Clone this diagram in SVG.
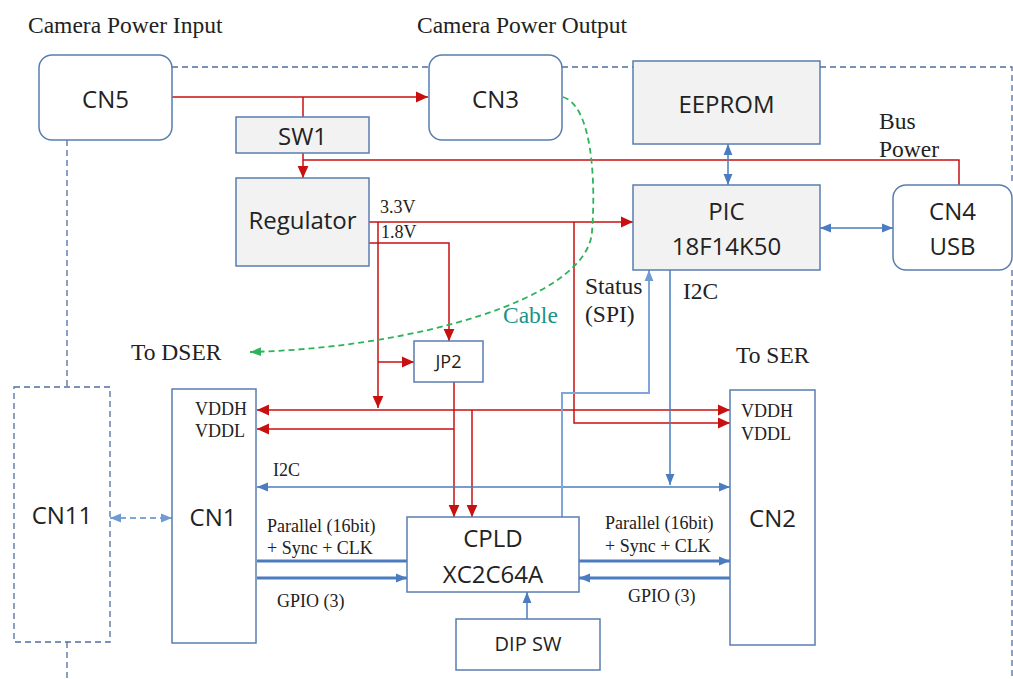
<svg xmlns="http://www.w3.org/2000/svg" width="1013" height="679" viewBox="0 0 1013 679">
<defs>
<style>
.box{fill:#fff;stroke:#5a7db0;stroke-width:1.5}
.gbox{fill:#f2f2f2;stroke:#5a7db0;stroke-width:1.5}
.dbox{fill:none;stroke:#4f6fa0;stroke-width:1.3;stroke-dasharray:6 4}
.lbl{font-family:"Open Sans","Liberation Sans",sans-serif;font-size:24px;fill:#222;text-anchor:middle}
.lbls{font-family:"Open Sans","Liberation Sans",sans-serif;font-size:18px;fill:#222;text-anchor:middle}
.ser{font-family:"Liberation Serif","Times New Roman",serif;font-size:21px;fill:#222}
.big{font-size:23.5px}
.sers{font-family:"Liberation Serif","Times New Roman",serif;font-size:18px;fill:#222}
.red{fill:none;stroke:#c81010;stroke-width:1.5}
.blue{fill:none;stroke:#4a7cbf;stroke-width:1.5}
.lblue{fill:none;stroke:#7fa6d8;stroke-width:2}
.thick{fill:none;stroke:#4a7cbf;stroke-width:3}
.bnd{fill:none;stroke:#4f6fa0;stroke-width:1.3;stroke-dasharray:6 4}
.cable{fill:none;stroke:#2db35a;stroke-width:1.8;stroke-dasharray:6 4}
</style>
<marker id="ar" markerUnits="userSpaceOnUse" markerWidth="12" markerHeight="12" viewBox="0 0 10 10" refX="10" refY="5" orient="auto-start-reverse"><path d="M0,0.5 L10,5 L0,9.5 Z" fill="#c81010"/></marker>
<marker id="ab" markerUnits="userSpaceOnUse" markerWidth="11" markerHeight="11" viewBox="0 0 10 10" refX="10" refY="5" orient="auto-start-reverse"><path d="M0,1 L10,5 L0,9 Z" fill="#4a7cbf"/></marker>
<marker id="alb" markerUnits="userSpaceOnUse" markerWidth="11" markerHeight="11" viewBox="0 0 10 10" refX="10" refY="5" orient="auto-start-reverse"><path d="M0,1 L10,5 L0,9 Z" fill="#6f9bd3"/></marker>
<marker id="ag" markerUnits="userSpaceOnUse" markerWidth="11" markerHeight="11" viewBox="0 0 10 10" refX="10" refY="5" orient="auto"><path d="M0,1 L10,5 L0,9 Z" fill="#2db35a"/></marker>
</defs>
<rect width="1013" height="679" fill="#fff"/>

<g id="boundary">
<path class="bnd" d="M172,67 H429 M562,67 H633 M820,67 H1012 V185 M1012,270 V679 M67,140 V387 M67,642 V679"/>
</g>

<g id="connectors">
<path class="red" d="M172,97 H428" marker-end="url(#ar)"/>
<path class="red" d="M303,97 V117"/>
<path class="red" d="M303,153 V178" marker-end="url(#ar)"/>
<path class="red" d="M959,185 V160 H303"/>
<path class="red" d="M369,222 H633" marker-end="url(#ar)"/>
<path class="red" d="M369,243 H449 V341" marker-end="url(#ar)"/>
<path class="red" d="M378,222 V408" marker-end="url(#ar)"/>
<path class="red" d="M378,362 H414" marker-end="url(#ar)"/>
<path class="red" d="M257,410 H730" marker-start="url(#ar)" marker-end="url(#ar)"/>
<path class="red" d="M454,382 V517" marker-end="url(#ar)"/>
<path class="red" d="M454,429 H257" marker-end="url(#ar)"/>
<path class="red" d="M472,410 V517" marker-end="url(#ar)"/>
<path class="red" d="M574,222 V423 H730" marker-end="url(#ar)"/>

<path class="blue" d="M728,144 V185" marker-start="url(#ab)" marker-end="url(#ab)"/>
<path class="blue" d="M820,228 H893" marker-start="url(#ab)" marker-end="url(#ab)"/>
<path class="blue" d="M670,270 V485" marker-end="url(#ab)"/>
<path class="blue" d="M257,487 H730" marker-start="url(#ab)" marker-end="url(#ab)"/>
<path class="lblue" d="M562,517 V393 H649 V270" marker-end="url(#alb)"/>
<path class="thick" d="M257,561 H407"/>
<path class="thick" d="M257,578 H407" marker-end="url(#ab)"/>
<path class="thick" d="M579,561 H730" marker-end="url(#ab)"/>
<path class="thick" d="M730,578 H579" marker-end="url(#ab)"/>
<path class="blue" d="M527,619 V592" marker-end="url(#ab)"/>
<path class="lblue" d="M110,518 H172" stroke-dasharray="6 4" marker-start="url(#alb)" marker-end="url(#alb)"/>
<path class="cable" d="M563,97 C592,106 596,180 592,232 C587,300 410,348 250,352" marker-end="url(#ag)"/>
</g>

<g id="CN5"><rect class="box" x="39" y="55" width="133" height="85" rx="13"/><text class="lbl" x="105.5" y="108">CN5</text></g>
<g id="CN3"><rect class="box" x="429" y="55" width="133" height="85" rx="13"/><text class="lbl" x="495.5" y="108">CN3</text></g>
<g id="EEPROM"><rect class="gbox" x="633" y="61" width="187" height="83"/><text class="lbl" x="726.5" y="113">EEPROM</text></g>
<g id="SW1"><rect class="gbox" x="236" y="117" width="133" height="36"/><text class="lbl" x="302.5" y="145">SW1</text></g>
<g id="Regulator"><rect class="gbox" x="236" y="178" width="133" height="88"/><text class="lbl" x="302.5" y="229">Regulator</text></g>
<g id="PIC"><rect class="gbox" x="633" y="185" width="187" height="85"/><text class="lbl" x="726.5" y="220">PIC</text><text class="lbl" x="726.5" y="255">18F14K50</text></g>
<g id="CN4"><rect class="box" x="893" y="185" width="119" height="85" rx="13"/><text class="lbl" x="952.5" y="220">CN4</text><text class="lbl" x="952.5" y="255">USB</text></g>
<g id="JP2"><rect class="box" x="414" y="341" width="69" height="41"/><text class="lbls" x="448.5" y="368">JP2</text></g>
<g id="CN11"><rect class="dbox" x="14" y="387" width="96" height="255"/><text class="lbl" x="62" y="524">CN11</text></g>
<g id="CN1"><rect class="box" x="172" y="389" width="84" height="254"/><text class="lbl" x="213" y="526">CN1</text></g>
<g id="CN2"><rect class="box" x="730" y="390" width="85" height="255"/><text class="lbl" x="772.5" y="527">CN2</text></g>
<g id="CPLD"><rect class="box" x="407" y="517" width="172" height="75"/><text class="lbl" x="493" y="547">CPLD</text><text class="lbl" x="493" y="583">XC2C64A</text></g>
<g id="DIPSW"><rect class="box" x="456" y="619" width="144" height="51"/><text class="lbls" x="528" y="651" style="font-size:20px">DIP SW</text></g>

<g id="labels">
<text class="ser big" x="28" y="33">Camera Power Input</text>
<text class="ser big" x="417" y="33">Camera Power Output</text>
<text class="ser big" x="879" y="129">Bus</text>
<text class="ser big" x="879" y="157">Power</text>
<text class="sers" x="380" y="213">3.3V</text>
<text class="sers" x="381" y="238">1.8V</text>
<text class="ser big" x="585" y="294">Status</text>
<text class="ser big" x="585" y="322">(SPI)</text>
<text class="ser big" x="683" y="299">I2C</text>
<text class="ser big" x="503" y="323" style="fill:#1a9488">Cable</text>
<text class="ser big" x="131" y="360">To DSER</text>
<text class="ser big" x="736" y="363">To SER</text>
<text class="sers" x="195" y="415">VDDH</text>
<text class="sers" x="195" y="437">VDDL</text>
<text class="sers" x="741" y="417">VDDH</text>
<text class="sers" x="741" y="440">VDDL</text>
<text class="sers" x="273" y="476">I2C</text>
<text class="sers" x="267" y="532">Parallel (16bit)</text>
<text class="sers" x="267" y="554">+ Sync + CLK</text>
<text class="sers" x="277" y="607">GPIO (3)</text>
<text class="sers" x="605" y="529">Parallel (16bit)</text>
<text class="sers" x="605" y="552">+ Sync + CLK</text>
<text class="sers" x="628" y="602">GPIO (3)</text>
</g>
</svg>
